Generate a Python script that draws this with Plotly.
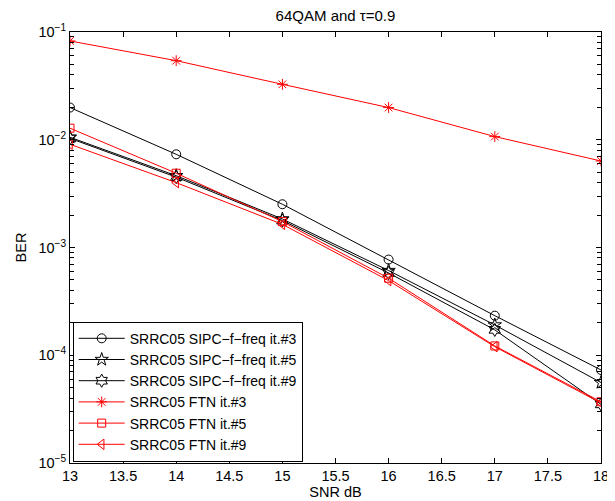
import plotly.graph_objects as go

snr = [13, 14, 15, 16, 17, 18]

sipc_it3 = [0.0199, 0.00733, 0.00252, 0.000773, 0.000233, 7.3e-5]
sipc_it5 = [0.01054, 0.00464, 0.00184, 0.000611, 0.000191, 5.58e-5]
sipc_it9 = [0.0103, 0.0045, 0.00178, 0.00058, 0.000172, 3.5e-5]
ftn_it3 = [0.0826, 0.0542, 0.0327, 0.0199, 0.0107, 0.00635]
ftn_it5 = [0.0128, 0.00489, 0.00174, 0.000519, 0.000122, 3.7e-5]
ftn_it9 = [0.00908, 0.0040, 0.00164, 0.000493, 0.000120, 3.6e-5]

names = [
    "SRRC05 SIPC\u2212f\u2212freq it.#3",
    "SRRC05 SIPC\u2212f\u2212freq it.#5",
    "SRRC05 SIPC\u2212f\u2212freq it.#9",
    "SRRC05 FTN it.#3",
    "SRRC05 FTN it.#5",
    "SRRC05 FTN it.#9",
]
series = [sipc_it3, sipc_it5, sipc_it9, ftn_it3, ftn_it5, ftn_it9]
colors = ["black", "black", "black", "#ff0000", "#ff0000", "#ff0000"]
symbols = ["circle-open", "star-open", "hexagram-open", "asterisk-open", "square-open", "triangle-left-open"]
sizes = [9, 10, 10, 9, 8, 9]

xticks = [13, 13.5, 14, 14.5, 15, 15.5, 16, 16.5, 17, 17.5, 18]
yticks = [1e-5, 1e-4, 1e-3, 1e-2, 1e-1]
yticktext = ["10<sup>\u22125</sup>", "10<sup>\u22124</sup>", "10<sup>\u22123</sup>", "10<sup>\u22122</sup>", "10<sup>\u22121</sup>"]
yminor = [m * 10 ** e for e in range(-5, -1) for m in range(2, 10)]

FS = 14.5
# the page body keeps an 8px default margin, so the figure is 8px smaller
W, H, OFF = 607, 493, 8

fig = go.Figure()
for name, ys, c, s, sz in zip(names, series, colors, symbols, sizes):
    fig.add_trace(go.Scatter(
        x=snr, y=ys, name=name, mode="lines+markers",
        line=dict(color=c, width=1),
        marker=dict(symbol=s, size=sz, color=c, line=dict(color=c, width=1)),
    ))

fig.update_layout(
    width=W, height=H,
    margin=dict(l=70 - OFF, r=14, t=32 - OFF, b=38, autoexpand=False),
    paper_bgcolor="white", plot_bgcolor="white",
    font=dict(family="Liberation Sans, Arial, sans-serif", size=FS, color="black"),
    title=dict(text="64QAM and \u03c4=0.9", x=0.5, xref="paper", xanchor="center",
               y=1 - 2.5 / H, yref="container", yanchor="top", font=dict(size=15)),
    showlegend=True,
    legend=dict(x=(72.7 - 70) / 531, y=(463 - 461.7) / 431, xanchor="left", yanchor="bottom",
                bgcolor="white", bordercolor="black", borderwidth=1,
                font=dict(size=14), tracegroupgap=0, itemwidth=46),
)
fig.update_xaxes(
    range=[13, 18], tickvals=xticks, ticktext=[("%g" % v) for v in xticks],
    ticks="inside", ticklen=5, tickcolor="black", showline=True, linecolor="black",
    linewidth=1, mirror="ticks", showgrid=False, zeroline=False, automargin=False,
    tickfont=dict(size=FS),
    title=dict(text="SNR dB", standoff=3, font=dict(size=FS)),
)
fig.update_yaxes(
    type="log", range=[-5, -1], tickvals=yticks, ticktext=yticktext,
    ticks="inside", ticklen=5, tickcolor="black", showline=True, linecolor="black",
    linewidth=1, mirror="ticks", showgrid=False, zeroline=False, automargin=False,
    tickfont=dict(size=FS),
    minor=dict(tickmode="array", tickvals=yminor, ticks="inside", ticklen=4, tickcolor="black", showgrid=False),
    title=dict(text="BER", standoff=8, font=dict(size=FS)),
)

fig.write_html("out.html")
